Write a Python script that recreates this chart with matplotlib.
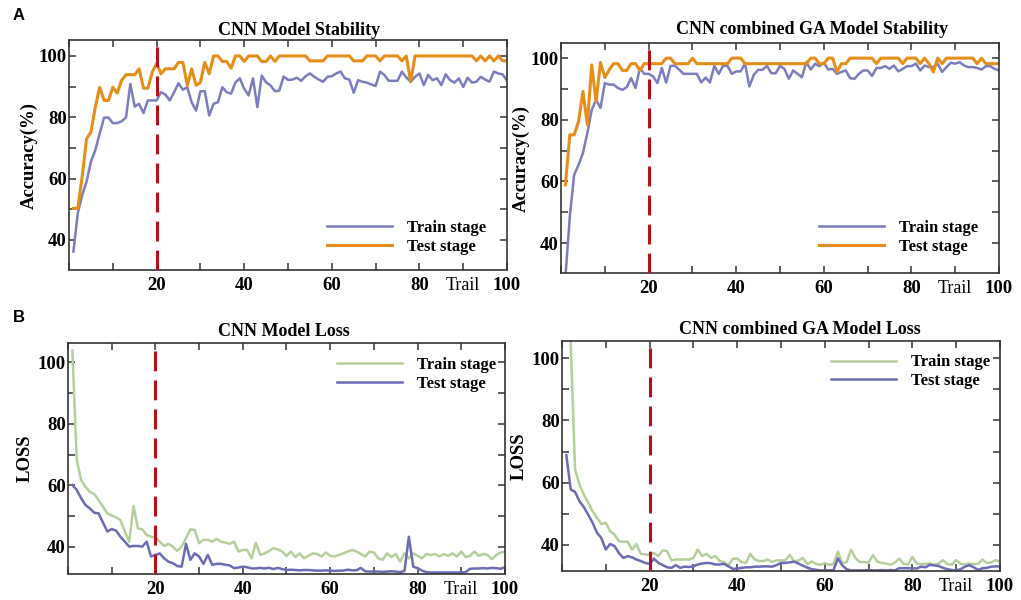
import numpy as np
import matplotlib
matplotlib.use('Agg')
import matplotlib.pyplot as plt
from matplotlib.ticker import MultipleLocator

plt.rcParams['font.family'] = ['Liberation Serif', 'DejaVu Serif']
plt.rcParams['font.weight'] = 'bold'
plt.rcParams['axes.labelweight'] = 'bold'

# ============================================================
# DATA (trials 1..100)
# ============================================================
trials = np.arange(1, 101)

# A - CNN model stability (accuracy %)
cnn_acc_train = [36.2, 48.7, 54.6, 59.0, 65.5, 69.3, 74.7, 79.9, 79.9, 78.1,
                 78.1, 78.7, 79.9, 90.9, 83.5, 84.4, 81.4, 85.5, 85.5, 85.5,
                 88.2, 87.4, 85.5, 88.2, 91.1, 89.0, 89.8, 84.9, 82.2, 88.5,
                 88.5, 80.6, 84.4, 84.9, 89.8, 88.2, 87.7, 91.4, 92.7, 89.3,
                 87.1, 92.7, 83.3, 93.6, 91.4, 90.4, 88.5, 88.7, 93.3, 92.2,
                 92.3, 92.9, 91.9, 93.4, 94.3, 93.2, 92.3, 91.6, 93.2, 93.4,
                 94.3, 94.9, 92.7, 92.3, 88.0, 92.1, 91.6, 91.3, 90.7, 90.2,
                 94.9, 93.8, 91.9, 91.9, 91.9, 94.9, 93.0, 91.6, 93.2, 94.3,
                 90.5, 93.8, 92.1, 92.7, 90.5, 94.0, 92.1, 91.3, 92.7, 89.9,
                 92.9, 91.3, 91.6, 93.2, 92.3, 91.6, 94.9, 94.3, 94.0, 91.9]
cnn_acc_test = [50.3, 50.3, 60.6, 73.0, 75.2, 83.3, 89.8, 85.5, 85.5, 89.8,
                87.9, 92.0, 93.9, 93.9, 93.9, 95.8, 89.5, 89.5, 94.7, 97.6,
                94.2, 95.8, 95.8, 95.8, 97.9, 97.9, 90.4, 95.8, 90.4, 91.4,
                97.9, 94.2, 100, 100, 98.2, 98.2, 96.0, 100, 100, 98.2,
                100, 100, 100, 98.2, 98.2, 100, 98.2, 100, 100, 100,
                100, 100, 100, 100, 98.4, 98.4, 98.4, 98.4, 100, 100,
                100, 100, 100, 100, 98.4, 98.4, 98.4, 100, 100, 100,
                98.4, 100, 100, 100, 100, 98.4, 100, 91.6, 100, 100,
                100, 100, 100, 100, 100, 100, 100, 100, 100, 100,
                100, 100, 98.4, 100, 98.4, 100, 98.4, 100, 98.4, 98.4]

# A - CNN combined GA model stability (accuracy %)
ga_acc_train = [29.0, 48.6, 62.2, 65.4, 69.2, 75.7, 83.2, 86.5, 83.8, 91.9,
                91.4, 91.4, 90.3, 89.7, 90.6, 93.5, 90.3, 96.8, 94.9, 94.9,
                94.1, 91.9, 96.8, 92.1, 97.5, 97.5, 96.2, 94.9, 94.9, 94.9,
                94.9, 92.1, 93.7, 92.1, 97.5, 94.9, 97.5, 97.5, 94.9, 95.7,
                95.7, 98.2, 90.8, 94.6, 96.2, 96.2, 97.5, 95.1, 95.1, 97.5,
                96.5, 93.3, 96.0, 94.9, 93.8, 98.7, 96.3, 98.2, 97.4, 98.5,
                96.3, 96.5, 94.9, 95.5, 96.0, 93.5, 93.3, 94.9, 96.0, 96.0,
                94.2, 96.8, 96.8, 97.4, 96.5, 97.6, 95.7, 96.5, 97.4, 97.4,
                98.2, 96.0, 97.6, 97.1, 97.1, 98.2, 95.5, 97.1, 98.5, 98.2,
                98.7, 97.6, 97.1, 97.1, 96.8, 96.3, 97.4, 97.4, 96.5, 96.0]
ga_acc_test = [58.9, 75.1, 75.1, 79.5, 89.2, 78.4, 97.8, 85.9, 98.6, 93.7,
               96.2, 98.2, 98.2, 96.0, 96.0, 98.2, 98.2, 96.0, 98.2, 98.2,
               98.2, 98.2, 98.2, 100, 100, 98.2, 98.2, 98.2, 98.2, 100,
               98.2, 98.2, 98.2, 98.2, 98.2, 98.2, 98.2, 98.2, 100, 100,
               100, 98.2, 98.2, 98.2, 98.2, 98.2, 98.2, 98.2, 98.2, 98.2,
               98.2, 98.2, 98.2, 98.2, 98.2, 98.2, 100, 100, 98.2, 98.2,
               100, 100, 95.5, 98.2, 98.2, 100, 100, 100, 100, 100,
               100, 98.2, 100, 100, 100, 100, 100, 98.2, 100, 100,
               100, 98.2, 100, 98.2, 95.5, 100, 98.2, 100, 100, 100,
               100, 100, 100, 100, 98.2, 100, 98.2, 98.2, 98.2, 98.2]

# B - CNN model loss
cnn_loss_train = [103.8, 68.2, 61.7, 59.5, 57.9, 57.2, 55.2, 53.1, 50.9, 50.2,
                  49.6, 48.7, 45.0, 41.7, 53.3, 46.0, 45.7, 43.9, 43.3, 43.1,
                  41.7, 40.3, 41.0, 40.1, 38.7, 40.1, 42.8, 45.7, 45.5, 41.2,
                  42.3, 42.3, 41.7, 42.6, 41.7, 41.4, 41.0, 41.7, 38.5, 39.0,
                  39.0, 36.3, 41.4, 37.4, 37.9, 38.7, 39.6, 39.2, 38.5, 37.1,
                  38.5, 36.7, 37.9, 36.3, 37.1, 37.9, 37.7, 36.9, 38.2, 37.1,
                  36.9, 37.4, 37.9, 38.5, 39.0, 38.5, 37.7, 36.9, 38.5, 38.2,
                  36.3, 35.8, 37.9, 36.7, 37.7, 35.2, 37.9, 36.3, 37.9, 37.1,
                  36.3, 37.7, 37.4, 37.7, 36.9, 37.7, 37.1, 37.9, 36.9, 38.5,
                  36.7, 37.1, 38.5, 37.1, 37.7, 37.4, 36.0, 37.4, 38.2, 38.5]
cnn_loss_test = [60.1, 58.5, 55.8, 53.6, 52.5, 51.1, 50.9, 47.9, 45.0, 45.8,
                 45.3, 43.3, 41.7, 40.1, 40.3, 40.3, 40.1, 41.7, 36.9, 37.4,
                 37.9, 36.3, 35.2, 34.7, 33.8, 33.6, 41.0, 35.8, 37.9, 36.9,
                 34.5, 37.4, 34.2, 34.5, 34.5, 34.2, 34.0, 33.1, 33.3, 33.6,
                 33.4, 33.0, 33.0, 33.2, 33.0, 33.2, 32.8, 33.2, 32.8, 32.5,
                 32.6, 32.5, 32.4, 32.5, 32.5, 32.4, 32.3, 32.3, 32.4, 32.3,
                 32.2, 32.3, 32.3, 32.6, 32.4, 32.4, 33.2, 32.1, 32.0, 32.0,
                 32.0, 31.9, 32.0, 32.1, 32.0, 31.8, 32.2, 43.3, 33.6, 33.1,
                 32.3, 31.8, 31.7, 31.7, 31.7, 31.7, 31.7, 31.7, 31.7, 31.7,
                 31.8, 32.9, 33.0, 33.0, 33.1, 33.0, 33.2, 33.1, 32.9, 33.4]

# B - CNN combined GA model loss
ga_loss_train = [140.0, 104.8, 64.2, 59.4, 56.1, 53.5, 50.8, 48.7, 46.7, 47.1,
                 44.4, 43.3, 41.2, 41.0, 41.0, 38.5, 40.3, 37.1, 36.9, 36.9,
                 37.4, 36.4, 38.2, 38.0, 35.0, 35.3, 35.3, 35.3, 35.3, 35.8,
                 38.5, 36.4, 37.1, 35.8, 36.4, 34.8, 34.5, 33.5, 35.5, 35.6,
                 34.5, 34.2, 37.1, 35.3, 34.8, 34.8, 35.3, 34.5, 35.0, 35.0,
                 35.0, 36.8, 34.7, 35.0, 35.8, 33.8, 34.7, 33.9, 33.6, 34.1,
                 33.6, 33.8, 37.9, 34.1, 34.5, 38.4, 35.8, 34.5, 34.5, 34.3,
                 36.7, 34.6, 34.2, 34.0, 33.6, 34.3, 35.6, 33.9, 33.7, 36.1,
                 34.0, 33.8, 33.9, 34.0, 33.6, 34.0, 35.1, 33.8, 33.6, 35.1,
                 33.9, 33.7, 34.0, 33.8, 33.9, 35.3, 34.2, 34.4, 35.1, 34.6]
ga_loss_test = [68.8, 57.8, 57.0, 54.0, 52.1, 49.7, 47.1, 43.9, 42.2, 38.5,
                40.3, 39.6, 37.4, 35.8, 36.4, 36.0, 35.3, 34.8, 34.2, 33.9,
                35.6, 34.2, 33.5, 32.8, 32.6, 33.5, 32.6, 33.0, 32.9, 33.1,
                33.7, 34.0, 34.2, 34.1, 33.7, 33.7, 33.9, 33.1, 32.3, 32.4,
                32.6, 32.8, 32.8, 33.0, 33.0, 33.1, 33.1, 33.0, 33.5, 34.2,
                34.2, 34.4, 34.6, 34.0, 33.3, 32.7, 32.2, 32.0, 31.8, 31.8,
                31.8, 31.9, 35.7, 33.4, 32.2, 31.8, 31.8, 31.8, 31.8, 31.9,
                31.8, 31.8, 31.9, 31.8, 31.9, 31.8, 32.5, 32.5, 32.5, 32.5,
                32.4, 33.0, 32.8, 33.6, 33.4, 33.2, 32.6, 32.2, 31.9, 31.8,
                32.2, 33.0, 33.5, 32.8, 32.0, 32.5, 32.6, 33.0, 33.1, 33.1]

# ============================================================
# STYLE
# ============================================================
PURPLE = '#7b7dbf'
PURPLE_LOSS = '#6c6cb6'
ORANGE = '#e58e1a'
GREEN = '#b5cf9a'
RED = '#b8101a'
SPINE = '#333333'


def style_axes(ax, ylim):
    ax.set_xlim(0, 100)
    ax.set_ylim(*ylim)
    ax.set_xticks([20, 40, 60, 80, 100])
    ax.xaxis.set_minor_locator(MultipleLocator(10))
    ax.set_yticks([40, 60, 80, 100])
    ax.yaxis.set_minor_locator(MultipleLocator(10))
    ax.tick_params(which='both', direction='in', top=True, right=True,
                   length=5, width=1.1, color=SPINE, labelsize=13.5)
    ax.tick_params(axis='x', pad=5)
    ax.tick_params(axis='y', pad=1.5)
    for sp in ax.spines.values():
        sp.set_linewidth(1.2)
        sp.set_color(SPINE)
    ax.axvline(20, color=RED, lw=2.2, dashes=(6.5, 3), zorder=4)
    ax.annotate('Trail', xy=(90, 0), xycoords=('data', 'axes fraction'),
                xytext=(0, -5), textcoords='offset points',
                ha='center', va='top', fontsize=13, fontweight='normal')


def add_legend(ax, x0, yc):
    ax.legend(loc='center left', bbox_to_anchor=(x0, yc), frameon=False,
              handlelength=3.9, handletextpad=0.9, labelspacing=0.15,
              borderpad=0, borderaxespad=0,
              prop={'size': 12, 'weight': 'bold'})


fig = plt.figure(figsize=(10.21, 6.0), dpi=100)

ax_a1 = fig.add_axes([0.0676, 0.55, 0.429, 0.3833])
ax_a2 = fig.add_axes([0.5495, 0.545, 0.429, 0.3833])
ax_b1 = fig.add_axes([0.0666, 0.0433, 0.428, 0.385])
ax_b2 = fig.add_axes([0.5504, 0.0483, 0.429, 0.3833])

# --- A: stability ---
ax_a1.plot(trials, cnn_acc_train, color=PURPLE, lw=1.8, label='Train stage')
ax_a1.plot(trials, cnn_acc_test, color=ORANGE, lw=2.2, label='Test stage')
style_axes(ax_a1, (30.2, 105.2))
ax_a1.set_ylabel('Accuracy(%)', fontsize=13.5, fontweight='bold', labelpad=1)
add_legend(ax_a1, 0.589, 0.141)

ax_a2.plot(trials, ga_acc_train, color=PURPLE, lw=1.8, label='Train stage')
ax_a2.plot(trials, ga_acc_test, color=ORANGE, lw=2.2, label='Test stage')
style_axes(ax_a2, (30.3, 104.9))
ax_a2.set_ylabel('Accuracy(%)', fontsize=13.5, fontweight='bold', labelpad=1)
add_legend(ax_a2, 0.589, 0.154)

# --- B: loss ---
ax_b1.plot(trials, cnn_loss_train, color=GREEN, lw=1.8, label='Train stage')
ax_b1.plot(trials, cnn_loss_test, color=PURPLE_LOSS, lw=1.8, label='Test stage')
style_axes(ax_b1, (31.2, 106.2))
ax_b1.set_ylabel('LOSS', fontsize=13.5, fontweight='bold', labelpad=3)
add_legend(ax_b1, 0.616, 0.864)

ax_b2.plot(trials, ga_loss_train, color=GREEN, lw=1.8, label='Train stage')
ax_b2.plot(trials, ga_loss_test, color=PURPLE_LOSS, lw=1.8, label='Test stage')
style_axes(ax_b2, (31.6, 105.5))
ax_b2.set_ylabel('LOSS', fontsize=13.5, fontweight='bold', labelpad=3)
add_legend(ax_b2, 0.614, 0.867)

# titles, placed like the original (slightly off-centre)
W, H = 1021, 600
titles = [('CNN Model Stability', 299, 30.7),
          ('CNN combined GA Model Stability', 812, 29),
          ('CNN Model Loss', 284, 332),
          ('CNN combined GA Model Loss', 800, 329)]
for txt, px, py in titles:
    fig.text(px / W, 1 - py / H, txt, ha='center', va='center', fontsize=13)

fig.text(13 / W, 1 - 15 / H, 'A', ha='left', va='center', fontsize=12,
         family='Liberation Sans', fontweight='bold')
fig.text(13 / W, 1 - 317 / H, 'B', ha='left', va='center', fontsize=12,
         family='Liberation Sans', fontweight='bold')

fig.savefig('out.png', dpi=100)
